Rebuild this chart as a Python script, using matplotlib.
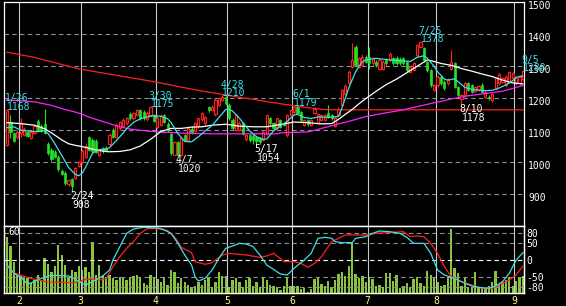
import matplotlib
matplotlib.use('Agg')
import matplotlib.pyplot as plt
import matplotlib.transforms as mtransforms
import numpy as np

# daily candles, 1/26 .. 9/5
opens = [1055, 1125, 1092, 1078, 1093, 1086, 1094, 1076, 1092, 1130,
         1113, 1120, 1057, 1040, 1033, 1018, 974, 967, 932, 948,
         952, 990, 1000, 1018, 1078, 1070, 1068, 1023, 1044, 1044,
         1057, 1100, 1080, 1106, 1113, 1122, 1150, 1137, 1148, 1163,
         1158, 1135, 1148, 1148, 1110, 1118, 1148, 1120, 1090, 1023,
         1064, 1023, 1085, 1070, 1104, 1098, 1113, 1135, 1124, 1172,
         1164, 1150, 1180, 1196, 1205, 1180, 1132, 1101, 1101, 1122,
         1072, 1085, 1082, 1078, 1075, 1070, 1090, 1137, 1122, 1106,
         1132, 1122, 1085, 1148, 1158, 1172, 1157, 1116, 1132, 1116,
         1153, 1124, 1132, 1132, 1153, 1148, 1113, 1148, 1179, 1215,
         1247, 1299, 1361, 1299, 1304, 1330, 1328, 1309, 1314, 1293,
         1293, 1319, 1319, 1325, 1325, 1322, 1325, 1314, 1283, 1288,
         1335, 1361, 1356, 1314, 1288, 1226, 1241, 1267, 1252, 1247,
         1293, 1309, 1236, 1197, 1210, 1247, 1241, 1224, 1226, 1241,
         1205, 1205, 1194, 1231, 1247, 1252, 1241, 1252, 1262, 1247,
         1247, 1260]
highs = [1168, 1148, 1096, 1100, 1137, 1110, 1098, 1100, 1118, 1135,
         1120, 1168, 1065, 1046, 1038, 1024, 979, 972, 948, 952,
         985, 1003, 1042, 1060, 1082, 1075, 1072, 1042, 1048, 1050,
         1092, 1106, 1122, 1130, 1138, 1142, 1158, 1158, 1167, 1168,
         1162, 1160, 1175, 1152, 1145, 1150, 1150, 1125, 1095, 1068,
         1068, 1080, 1090, 1110, 1112, 1126, 1140, 1158, 1146, 1176,
         1178, 1200, 1205, 1210, 1208, 1185, 1138, 1152, 1128, 1126,
         1090, 1090, 1088, 1082, 1080, 1100, 1152, 1142, 1126, 1140,
         1136, 1126, 1152, 1168, 1179, 1176, 1160, 1136, 1136, 1135,
         1172, 1155, 1152, 1150, 1179, 1152, 1145, 1172, 1230, 1245,
         1290, 1372, 1368, 1330, 1340, 1335, 1360, 1330, 1320, 1325,
         1320, 1325, 1345, 1330, 1332, 1328, 1330, 1318, 1303, 1314,
         1370, 1378, 1360, 1318, 1292, 1245, 1272, 1272, 1256, 1262,
         1351, 1314, 1240, 1215, 1252, 1252, 1246, 1240, 1242, 1248,
         1225, 1210, 1218, 1267, 1280, 1268, 1272, 1284, 1282, 1268,
         1272, 1288]
lows = [1050, 1075, 1064, 1072, 1080, 1082, 1078, 1072, 1088, 1095,
        1094, 1088, 1022, 1004, 1012, 972, 960, 930, 926, 908,
        948, 985, 995, 1012, 1034, 1030, 1028, 1020, 1030, 1032,
        1052, 1076, 1075, 1100, 1110, 1118, 1132, 1133, 1145, 1133,
        1133, 1130, 1145, 1125, 1105, 1115, 1124, 1096, 1024, 1022,
        1020, 1021, 1066, 1066, 1090, 1094, 1108, 1130, 1118, 1158,
        1160, 1146, 1176, 1192, 1180, 1132, 1100, 1097, 1098, 1085,
        1068, 1062, 1058, 1054, 1058, 1066, 1086, 1118, 1100, 1102,
        1106, 1112, 1080, 1144, 1154, 1150, 1128, 1112, 1115, 1112,
        1150, 1120, 1128, 1128, 1138, 1132, 1110, 1145, 1175, 1210,
        1243, 1295, 1300, 1294, 1300, 1310, 1293, 1304, 1299, 1290,
        1290, 1304, 1315, 1304, 1305, 1303, 1304, 1283, 1279, 1284,
        1330, 1356, 1315, 1283, 1236, 1222, 1236, 1243, 1226, 1243,
        1290, 1232, 1205, 1178, 1205, 1222, 1216, 1220, 1222, 1218,
        1200, 1195, 1190, 1226, 1243, 1248, 1236, 1248, 1258, 1243,
        1243, 1255]
closes = [1165, 1095, 1068, 1096, 1124, 1103, 1082, 1096, 1113, 1098,
          1098, 1093, 1028, 1010, 1017, 978, 964, 935, 944, 925,
          982, 1000, 1036, 1050, 1038, 1035, 1032, 1038, 1034, 1036,
          1086, 1080, 1116, 1127, 1132, 1137, 1137, 1153, 1163, 1137,
          1137, 1155, 1172, 1130, 1140, 1145, 1127, 1100, 1028, 1064,
          1023, 1075, 1070, 1106, 1094, 1122, 1137, 1155, 1142, 1162,
          1172, 1195, 1200, 1205, 1184, 1137, 1106, 1148, 1122, 1090,
          1085, 1070, 1070, 1068, 1064, 1096, 1148, 1122, 1106, 1137,
          1111, 1116, 1148, 1163, 1174, 1155, 1132, 1132, 1120, 1132,
          1168, 1150, 1148, 1148, 1142, 1137, 1140, 1168, 1226, 1238,
          1283, 1319, 1304, 1325, 1330, 1314, 1309, 1325, 1304, 1319,
          1314, 1309, 1340, 1309, 1309, 1309, 1309, 1288, 1299, 1309,
          1366, 1375, 1319, 1288, 1241, 1241, 1267, 1247, 1231, 1257,
          1314, 1236, 1210, 1210, 1247, 1226, 1221, 1236, 1238, 1221,
          1221, 1200, 1213, 1262, 1276, 1262, 1267, 1283, 1278, 1262,
          1267, 1285]
volume = [56, 47, 31, 18, 17, 16, 15, 10, 13, 18,
          13, 35, 29, 21, 27, 48, 38, 28, 15, 23,
          21, 27, 23, 26, 21, 51, 18, 28, 18, 16,
          18, 15, 13, 16, 16, 13, 16, 17, 18, 15,
          10, 8, 18, 16, 14, 11, 16, 8, 23, 21,
          10, 15, 11, 8, 6, 7, 11, 8, 13, 16,
          6, 11, 21, 17, 17, 6, 13, 15, 11, 6,
          13, 15, 7, 11, 6, 15, 13, 8, 7, 6,
          3, 7, 16, 7, 7, 7, 4, 5, 1, 4,
          14, 16, 9, 7, 12, 6, 13, 19, 21, 17,
          27, 50, 19, 15, 17, 11, 16, 14, 7, 8,
          6, 20, 20, 12, 18, 5, 7, 10, 6, 14,
          16, 10, 7, 22, 18, 15, 11, 7, 8, 16,
          64, 25, 20, 7, 15, 6, 6, 21, 6, 5,
          4, 7, 11, 22, 8, 11, 13, 16, 7, 12,
          16, 17]

# moving averages (day index, price)
ma_short_day = [0, 2, 4, 6, 8, 10, 11, 12, 14, 16, 18, 20, 21, 22, 23, 25, 27, 29, 30, 32,
                34, 35, 37, 39, 41, 43, 45, 47, 48, 50, 52, 54, 56, 58, 60, 62, 64, 65, 66, 68,
                69, 71, 73, 75, 76, 78, 80, 82, 84, 85, 87, 89, 91, 93, 95, 97, 98, 99, 100, 101,
                102, 103, 104, 105, 108, 112, 116, 118, 120, 122, 123, 125, 126, 128, 129, 131, 132, 134, 136, 138,
                140, 142, 144, 146, 148, 149, 151]
ma_short_val = [1108, 1111, 1100, 1098, 1096, 1097, 1099, 1090, 1058, 1022, 984, 962, 958, 966, 985, 1028, 1040, 1041, 1046, 1068,
                1092, 1105, 1125, 1136, 1142, 1146, 1144, 1136, 1124, 1090, 1065, 1064, 1080, 1098, 1115, 1140, 1165, 1166, 1160, 1138,
                1124, 1098, 1080, 1072, 1073, 1098, 1114, 1128, 1148, 1150, 1140, 1137, 1142, 1141, 1141, 1143, 1170, 1200, 1232, 1258,
                1282, 1300, 1314, 1320, 1325, 1320, 1317, 1315, 1328, 1333, 1325, 1300, 1283, 1260, 1257, 1261, 1252, 1234, 1228, 1226,
                1224, 1225, 1232, 1242, 1255, 1266, 1270]
ma_mid_day = [0, 4, 8, 11, 13, 16, 18, 20, 22, 24, 26, 28, 30, 33, 36, 39, 42, 45, 48, 51,
              54, 57, 60, 64, 68, 72, 76, 80, 84, 88, 92, 95, 97, 99, 101, 103, 105, 108, 111, 114,
              117, 120, 123, 125, 127, 130, 133, 136, 139, 142, 145, 148, 151]
ma_mid_val = [1124, 1121, 1116, 1105, 1092, 1070, 1058, 1053, 1049, 1044, 1039, 1035, 1033, 1034, 1039, 1051, 1072, 1096, 1106, 1106,
              1110, 1111, 1116, 1119, 1113, 1111, 1111, 1118, 1126, 1124, 1120, 1121, 1134, 1150, 1165, 1183, 1199, 1222, 1243, 1260,
              1280, 1300, 1320, 1315, 1309, 1303, 1293, 1285, 1276, 1268, 1257, 1248, 1245]
ma_long_day = [0, 8, 13, 17, 20, 22, 24, 27, 30, 33, 36, 39, 42, 46, 52, 60, 70, 79, 80, 88,
               90, 92, 96, 100, 105, 110, 115, 120, 125, 130, 135, 140, 145, 151]
ma_long_val = [1195, 1189, 1178, 1165, 1157, 1150, 1141, 1131, 1121, 1111, 1104, 1100, 1097, 1094, 1091, 1089, 1089, 1089, 1092, 1095,
               1100, 1106, 1117, 1128, 1143, 1153, 1162, 1174, 1186, 1198, 1208, 1215, 1222, 1240]
ma_year_day = [0, 8, 17, 21, 27, 37, 44, 50, 57, 62, 67, 72, 77, 82, 87, 92, 95, 151]
ma_year_val = [1344, 1328, 1303, 1292, 1281, 1263, 1250, 1237, 1223, 1214, 1205, 1197, 1188, 1180, 1172, 1166, 1164, 1164]

# oscillators (day index, value)
osc_a_day = [0, 2, 4, 6, 8, 10, 12, 14, 18, 19, 21, 23, 24, 26, 28, 30, 31, 33, 35, 37,
             40, 44, 46, 48, 50, 52, 54, 55, 56, 58, 60, 62, 64, 66, 68, 70, 72, 74, 76, 78,
             80, 82, 84, 87, 89, 91, 93, 95, 96, 98, 101, 102, 105, 107, 109, 112, 115, 117, 119, 122,
             124, 126, 128, 130, 133, 136, 138, 141, 143, 145, 147, 149, 151]
osc_a_val = [-15, -40, -52, -72, -65, -55, -48, -46, -48, -52, -65, -75, -70, -60, -48, -30, 0, 40, 80, 93,
             98, 96, 90, 80, 50, 15, -15, -50, -63, -55, -30, 5, 35, 42, 50, 48, 40, 15, -15, -28,
             -42, -45, -25, 0, 20, 65, 68, 65, 55, 52, 52, 65, 70, 80, 87, 85, 80, 68, 50, 50,
             20, -30, -45, -52, -65, -78, -82, -85, -78, -65, -40, 0, 22]
osc_b_day = [0, 2, 4, 6, 8, 10, 12, 16, 19, 21, 23, 25, 27, 29, 31, 33, 35, 37, 39, 41,
             45, 47, 49, 51, 54, 55, 58, 60, 63, 65, 70, 74, 76, 78, 80, 81, 84, 86, 88, 90,
             92, 95, 97, 99, 105, 108, 113, 116, 118, 120, 122, 124, 126, 128, 130, 133, 136, 139, 142, 144,
             147, 149, 151]
osc_b_val = [-18, -38, -45, -52, -58, -62, -66, -67, -68, -65, -58, -58, -60, -55, -20, 10, 35, 55, 80, 94,
             94, 88, 70, 38, 22, -5, -13, -8, 15, 20, 15, 8, 12, 20, 4, -5, -5, -10, -22, -10,
             10, 55, 65, 75, 75, 80, 83, 85, 70, 72, 70, 50, 20, -20, -50, -65, -75, -85, -85, -75,
             -60, -45, -18]

month_first = [4, 22, 44, 65, 84, 106, 126, 149]
month_names = ['2', '3', '4', '5', '6', '7', '8', '9']
price_ticks = [900, 1000, 1100, 1200, 1300, 1400, 1500]
osc_ticks = [80, 50, 0, -50, -80]
osc_tick_labels = ['80', '50', '0', '-50', '-80']

peaks = [(0, '1/26', 1168), (42, '3/30', 1175), (63, '4/28', 1210),
         (84, '6/1', 1179), (121, '7/25', 1378), (151, '9/5', 1288)]
troughs = [(19, '2/24', 908), (50, '4/7', 1020), (73, '5/17', 1054), (133, '8/10', 1178)]

RED = '#ff2020'
GREEN = '#22e022'
CYAN = '#40e0e8'
MAGENTA = '#ff20ff'
VOLC = '#88c43c'
FONT = 'DejaVu Sans Mono'

o = np.array(opens); h = np.array(highs); l = np.array(lows); c = np.array(closes)
x = np.arange(len(o))
up = c >= o

fig = plt.figure(figsize=(5.66, 3.06), dpi=100, facecolor='black')
ax = fig.add_axes([4 / 566, 80 / 306, 520 / 566, 224 / 306])
ax_vol = fig.add_axes([4 / 566, 13 / 306, 520 / 566, 67 / 306])
ax_osc = ax_vol.twinx()

for a in (ax, ax_vol, ax_osc):
    a.set_facecolor('black')
    a.set_xlim(-0.9, 151.3)
    for s in a.spines.values():
        s.set_color('white')
        s.set_linewidth(0.9)

# --- price panel
ax.set_ylim(801, 1501)
for p in price_ticks[:-1]:
    ax.axhline(p, color='#909090', lw=0.8, ls=(0, (4, 3)), zorder=1)
for m in month_first:
    ax.axvline(m - 0.5, color='#c8c8c8', lw=0.8, zorder=1)

ax.vlines(x[up], l[up], h[up], color=RED, lw=0.8, zorder=3)
ax.vlines(x[~up], l[~up], h[~up], color=GREEN, lw=0.8, zorder=3)
ax.bar(x[up], (c - o)[up], bottom=o[up], width=0.64, facecolor='black',
       edgecolor=RED, lw=0.85, zorder=4)
ax.bar(x[~up], (o - c)[~up], bottom=c[~up], width=0.64, facecolor=GREEN,
       edgecolor=GREEN, lw=0.5, zorder=4)

ax.plot(ma_year_day, ma_year_val, color=RED, lw=0.9, zorder=5)
ax.plot(ma_long_day, ma_long_val, color=MAGENTA, lw=0.9, zorder=5)
ax.plot(ma_mid_day, ma_mid_val, color='white', lw=0.9, zorder=5)
ax.plot(ma_short_day, ma_short_val, color=CYAN, lw=0.9, zorder=6)

for d, lab, p in peaks:
    ax.annotate(lab, xy=(d, p), xytext=(-1.5, 7.6), textcoords='offset points',
                ha='left', va='center', color=CYAN, fontsize=7, family=FONT,
                annotation_clip=False, zorder=8)
    ax.annotate(str(p), xy=(d, p), xytext=(0, 1.4), textcoords='offset points',
                ha='left', va='center', color=CYAN, fontsize=7, family=FONT,
                annotation_clip=False, zorder=8)
for d, lab, p in troughs:
    ax.annotate(lab, xy=(d, p), xytext=(-1.5, -2.9), textcoords='offset points',
                ha='left', va='center', color='white', fontsize=7, family=FONT,
                annotation_clip=False, zorder=8)
    ax.annotate(str(p), xy=(d, p), xytext=(0, -9.4), textcoords='offset points',
                ha='left', va='center', color='white', fontsize=7, family=FONT,
                annotation_clip=False, zorder=8)

ax.yaxis.tick_right()
ax.set_yticks(price_ticks)
ax.set_yticklabels([str(t) for t in price_ticks])
ax.tick_params(axis='y', length=0, pad=3, colors='white', labelsize=7)
ax.set_xticks([])
shift_down = mtransforms.ScaledTranslation(0, -2.5 / 100, fig.dpi_scale_trans)
for t in ax.get_yticklabels():
    t.set_family(FONT)
    t.set_transform(t.get_transform() + shift_down)

# --- volume / oscillator panel
ax_vol.set_ylim(0, 67)
ax_vol.bar(x, volume, width=0.68, color=VOLC, zorder=2)
ax_vol.set_yticks([])
ax_vol.text(0.3, 61, '60', color='white', fontsize=7, family=FONT, ha='left', va='center')

ax_osc.set_zorder(ax_vol.get_zorder() + 1)
ax_osc.patch.set_visible(False)
ax_osc.set_ylim(-99, 102)
for v in osc_ticks:
    col = 'white' if v == 0 else '#909090'
    ax_osc.axhline(v, color=col, lw=0.8, ls=(0, (4, 3)), zorder=1)
for m in month_first:
    ax_osc.axvline(m - 0.5, color='#c8c8c8', lw=0.8, zorder=1)
ax_osc.plot(osc_b_day, osc_b_val, color=RED, lw=0.9, zorder=3)
ax_osc.plot(osc_a_day, osc_a_val, color=CYAN, lw=0.9, zorder=4)
ax_osc.set_yticks(osc_ticks)
ax_osc.set_yticklabels(osc_tick_labels)
ax_osc.tick_params(axis='y', length=0, pad=2, colors='white', labelsize=7)
for t in ax_osc.get_yticklabels():
    t.set_family(FONT)

ax_vol.set_xticks([m - 0.5 for m in month_first])
ax_vol.set_xticklabels(month_names)
ax_vol.tick_params(axis='x', length=0, pad=2, colors='#ffff88', labelsize=7)
for t in ax_vol.get_xticklabels():
    t.set_family(FONT)

fig.savefig('out.png', dpi=100, facecolor='black')
